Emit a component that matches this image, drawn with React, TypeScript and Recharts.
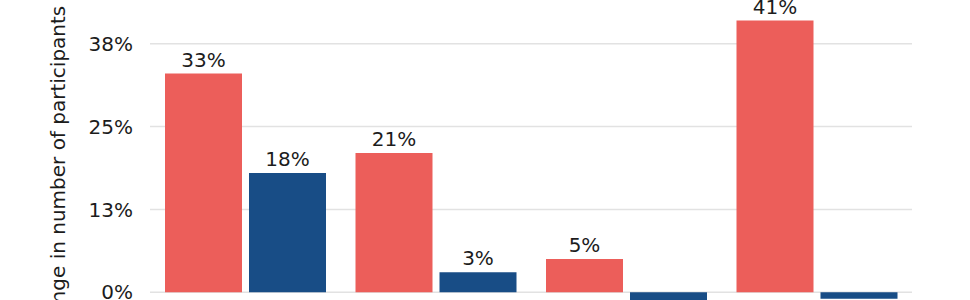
import { BarChart, Bar, XAxis, YAxis, CartesianGrid, LabelList } from "recharts";

const categories = ["Group A", "Group B", "Group C", "Group D"];
const seriesA = [33, 21, 5, 41];
const seriesB = [18, 3, -3, -1];
const yTicks = [-12.5, 0, 12.5, 25, 37.5, 50];

const data = categories.map((name, i) => ({ name, a: seriesA[i], b: seriesB[i] }));

const FONT = "'DejaVu Sans', sans-serif";
const pct = (v: number) => `${Math.round(v)}%`;

function BarValue(props: any) {
  const { x, y, width, height, value } = props;
  const top = Math.min(y, y + height);
  const bottom = Math.max(y, y + height);
  const cx = x + width / 2;
  const ty = value >= 0 ? top - 7 : bottom + 22;
  return (
    <text x={cx} y={ty} textAnchor="middle" fill="#1c1c1c" fontSize={20} fontFamily={FONT}>
      {pct(value)}
    </text>
  );
}

export default function App() {
  return (
    <div style={{ position: "fixed", left: 0, top: 0, width: 970, height: 300, overflow: "hidden", background: "#fff" }}>
      <div style={{ position: "absolute", left: 0, top: -59 }}>
        <BarChart
          width={970}
          height={444}
          data={data}
          margin={{ top: 20, right: 58, bottom: 10, left: 0 }}
          barSize={77}
          barGap={7}
        >
          <CartesianGrid vertical={false} stroke="#e2e2e2" strokeWidth={1.5} />
          <XAxis dataKey="name" hide />
          <YAxis
            width={150}
            domain={[-12.5, 50]}
            ticks={yTicks}
            tickFormatter={pct}
            axisLine={false}
            tickLine={false}
            tickMargin={11}
            tick={{ fill: "#1c1c1c", fontSize: 20, fontFamily: FONT }}
            label={{
              value: "Change in number of participants",
              angle: -90,
              position: "center",
              dx: -17,
              dy: 6,
              style: { fill: "#1c1c1c", fontSize: 20, fontFamily: FONT },
            }}
          />
          <Bar dataKey="a" fill="#EC5E5A" isAnimationActive={false}>
            <LabelList dataKey="a" content={BarValue} />
          </Bar>
          <Bar dataKey="b" fill="#184D86" isAnimationActive={false}>
            <LabelList dataKey="b" content={BarValue} />
          </Bar>
        </BarChart>
      </div>
    </div>
  );
}
